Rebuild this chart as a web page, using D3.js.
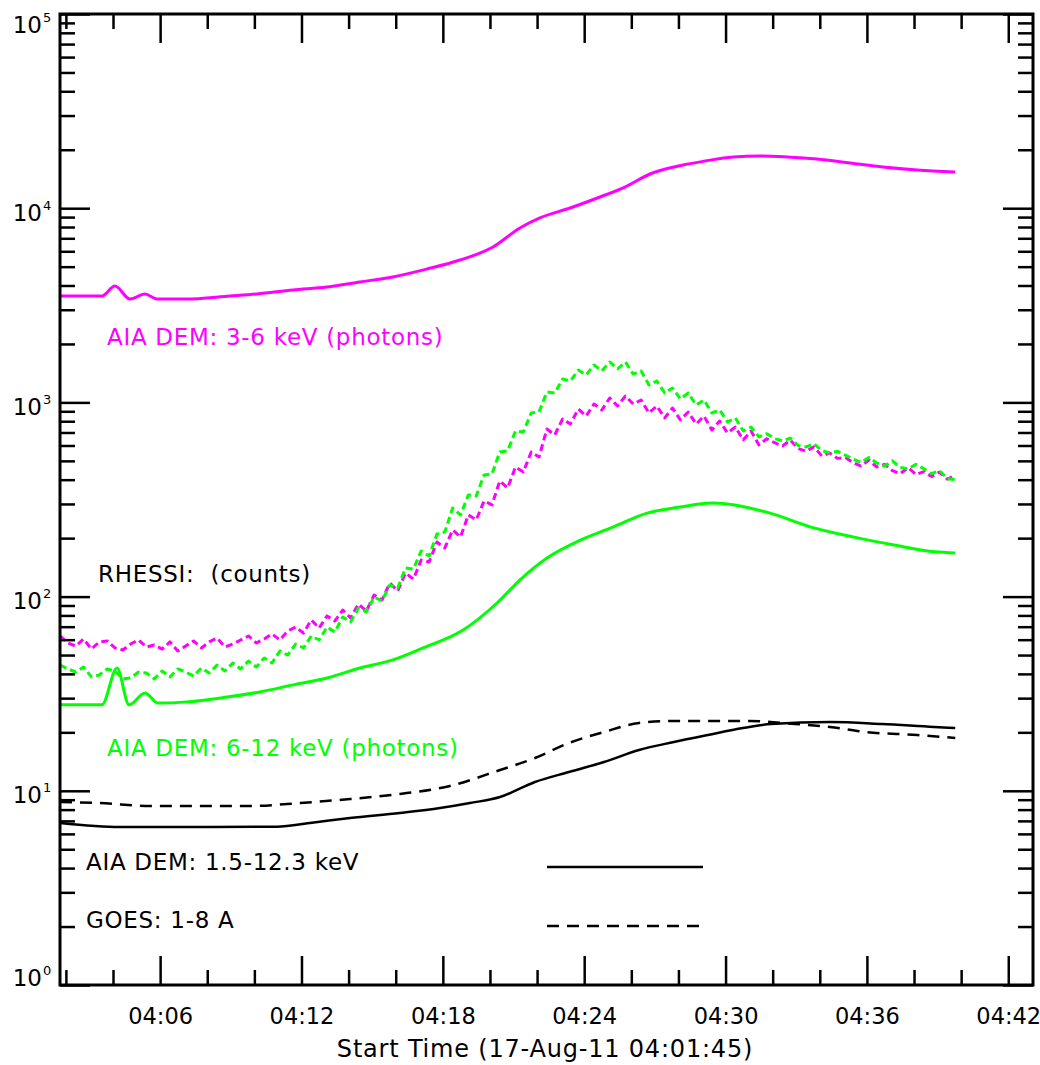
<!DOCTYPE html>
<html>
<head>
<meta charset="utf-8">
<script src="https://cdn.jsdelivr.net/npm/d3@7"></script>
<style>
  body { margin: 0; background: #fff; }
  svg { display: block; }
  text { font-family: "DejaVu Sans", sans-serif; }
</style>
</head>
<body>
<svg id="chart" width="1040" height="1065"></svg>
<script>
// times are minutes after the start time 04:01:45
const startTime = new Date(2011, 7, 17, 4, 1, 45);
const endTime = new Date(2011, 7, 17, 4, 43, 3);

const xTickLabels = ["04:06", "04:12", "04:18", "04:24", "04:30", "04:36", "04:42"];
const yDecades = [1, 10, 100, 1000, 10000, 100000];

// AIA DEM 3-6 keV (photons)
const aia36Min = [0, 1.27, 1.78, 2.33, 2.97, 3.61, 4.12, 5.31, 7.22, 8.36, 9.89, 11.33, 12.73, 14.13, 15.58, 16.98,
  18.38, 19.52, 20.37, 21.65, 22.92, 23.98, 25.04, 26.44, 27.38, 28.57, 29.7, 30.86, 32.13, 33.53, 34.93, 36.38, 38.0];
const aia36Val = [3530, 3530, 3530, 3975, 3406, 3615, 3406, 3406, 3530, 3615, 3793, 3929, 4170, 4425, 4863, 5410,
  6310, 7910, 8910, 10020, 11420, 12850, 15000, 16680, 17500, 18360, 18580, 18360, 17910, 17100, 16300, 15730, 15360];

// AIA DEM 6-12 keV (photons)
const aia612Min = [0, 1.78, 2.42, 2.93, 3.61, 4.16, 5.39, 7.09, 8.49, 9.89, 11.33, 12.73, 14.13, 15.41, 17.11, 18.55,
  19.52, 20.67, 22.07, 23.47, 24.92, 26.32, 27.16, 27.72, 30.14, 31.88, 33.66, 35.40, 37.14, 38.0];
const aia612Val = [27.7, 27.7, 42.9, 27.7, 31.9, 28.3, 28.7, 30.4, 32.3, 35.1, 38.1, 42.9, 47.2, 54.4, 67.3, 92.7,
  121.7, 158, 195, 228, 269, 289, 300, 303, 269, 228, 203, 184.5, 170, 167.6];

// AIA DEM 1.5-12.3 keV
const aiaTotMin = [0, 2.55, 9.2, 10.70, 12.31, 14.43, 16.13, 17.40, 18.68, 20.16, 21.60, 23.09, 24.58, 26.06, 27.50,
  28.99, 30.18, 32.68, 34.89, 37.10, 38.0];
const aiaTotVal = [6.83, 6.51, 6.53, 6.85, 7.24, 7.69, 8.15, 8.65, 9.29, 11.10, 12.50, 14.07, 16.22, 17.83, 19.38,
  21.05, 22.08, 22.61, 22.08, 21.31, 21.05];

// GOES 1-8 A
const goesMin = [0, 1.70, 3.82, 8.06, 10.19, 12.31, 14.43, 16.55, 18.68, 20.16, 21.60, 23.09, 24.58, 26.06, 29.29,
  31.20, 32.68, 34.17, 36.38, 38.0];
const goesVal = [8.76, 8.65, 8.35, 8.35, 8.65, 9.07, 9.63, 10.59, 12.80, 14.75, 17.62, 20.09, 22.35, 22.88, 22.88,
  22.08, 21.31, 20.09, 19.38, 18.70];

// RHESSI counts, one sample every 20 s from the start time
const rhessiStepMin = 1 / 3;
const rhessi36 = [62.7, 57.7, 55.6, 60.5, 53.7, 58.4, 59.1, 54.4, 53.1, 57.0,
  59.8, 55.0, 56.3, 53.7, 58.4, 52.5, 55.6, 59.1, 54.4, 58.4,
  61.2, 55.0, 57.0, 59.8, 62.7, 57.7, 60.5, 64.2, 59.8, 66.5,
  69.7, 64.9, 75.8, 68.9, 79.5, 74.9, 85.3, 77.6, 91.6, 84.3,
  101.9, 96.0, 117.5, 106.8, 132.3, 123.2, 154.3, 150.7, 191.1, 178.0,
  220.3, 202.7, 263.2, 248.1, 310.8, 296.4, 393.9, 362.6, 465.0, 438.3,
  555.5, 523.5, 729.6, 679.5, 821.4, 774.1, 924.8, 851.2, 981.2, 913.9,
  1054, 958, 1079, 981, 1029, 882, 958, 831, 936, 812,
  892, 774, 851, 721, 802, 696, 747, 640, 712, 604,
  650, 620, 596, 640, 578, 560, 590, 530, 549, 515,
  520, 490, 470, 505, 465, 480, 445, 430, 462, 425,
  440, 415, 438, 402, 423];
const rhessi612 = [44.4, 42.4, 40.9, 43.4, 38.6, 39.5, 42.4, 41.4, 37.7, 38.1,
  40.9, 40.4, 37.7, 41.4, 38.6, 42.4, 40.9, 39.0, 42.9, 40.4,
  44.4, 41.4, 45.5, 42.4, 46.6, 43.4, 48.3, 45.5, 52.5, 50.0,
  57.0, 54.4, 62.7, 59.8, 69.7, 65.7, 78.5, 74.0, 87.3, 83.3,
  99.5, 94.9, 114.7, 110.7, 140.4, 138.7, 171.8, 161.9, 210.1, 215.1,
  286.0, 263.2, 333.7, 329.8, 422.9, 427.9, 555.5, 562.1, 712.5, 704.1,
  882, 892, 1131, 1118, 1320, 1289, 1469, 1384, 1558, 1452,
  1615, 1486, 1615, 1400, 1452, 1229, 1289, 1118, 1186, 1041,
  1118, 970, 1029, 882, 914, 793, 831, 712, 747, 664,
  690, 650, 635, 655, 600, 590, 612, 565, 548, 560,
  535, 510, 490, 520, 488, 470, 500, 462, 455, 480,
  455, 430, 445, 405, 400];

const magenta = "#ff00ff", green = "#00ff00", black = "#000";
const plotL = 60, plotR = 1033, plotT = 14, plotB = 985;

const at = m => new Date(+startTime + m * 60000);
const parseClock = d3.timeParse("%Y-%m-%d %H:%M");

const x = d3.scaleTime().domain([startTime, endTime]).range([plotL, plotR]);
const y = d3.scaleLog().domain([1, 1e5]).range([plotB, plotT]);

const svg = d3.select("#chart");

svg.append("clipPath").attr("id", "plot")
  .append("rect").attr("x", plotL).attr("y", plotT).attr("width", plotR - plotL).attr("height", plotB - plotT);

const jagged = d3.line().x(d => x(at(d[0]))).y(d => y(d[1]));
const smooth = d3.line().x(d => x(at(d[0]))).y(d => y(d[1])).curve(d3.curveMonotoneX);
const zip = (ts, vs) => ts.map((t, i) => [t, vs[i]]);

const curves = svg.append("g").attr("clip-path", "url(#plot)").attr("fill", "none")
  .attr("stroke-linejoin", "round");

function curve(data, gen, color, width, dash) {
  curves.append("path")
    .datum(data)
    .attr("d", gen)
    .attr("stroke", color)
    .attr("stroke-width", width)
    .attr("stroke-dasharray", dash || null);
}

curve(rhessi36.map((v, i) => [i * rhessiStepMin, v]), jagged, magenta, 3, "7,4");
curve(rhessi612.map((v, i) => [i * rhessiStepMin, v]), jagged, green, 3, "7,4");
curve(zip(aia36Min, aia36Val), smooth, magenta, 3);
curve(zip(aia612Min, aia612Val), smooth, green, 3);
curve(zip(goesMin, goesVal), smooth, black, 2.5, "12,8");
curve(zip(aiaTotMin, aiaTotVal), smooth, black, 2.5);

// axes
const xMajor = xTickLabels.map(s => parseClock("2011-08-17 " + s));
const xMinor = d3.timeMinute.every(2).range(startTime, endTime).filter(d => d.getMinutes() % 6 !== 0);
const yMinor = y.ticks().filter(v => !yDecades.includes(v));

function ticks(axis, pos, vals, len) {
  svg.append("g")
    .attr("transform", pos)
    .call(axis.tickValues(vals).tickSize(-len).tickFormat(""))
    .call(g => g.select(".domain").remove())
    .call(g => g.selectAll(".tick line").attr("stroke", black).attr("stroke-width", 2.5));
}

ticks(d3.axisLeft(y), `translate(${plotL},0)`, yDecades, 30);
ticks(d3.axisLeft(y), `translate(${plotL},0)`, yMinor, 15);
ticks(d3.axisRight(y), `translate(${plotR},0)`, yDecades, 30);
ticks(d3.axisRight(y), `translate(${plotR},0)`, yMinor, 15);
ticks(d3.axisTop(x), `translate(0,${plotT})`, xMajor, 29);
ticks(d3.axisTop(x), `translate(0,${plotT})`, xMinor, 15);
ticks(d3.axisBottom(x), `translate(0,${plotB})`, xMinor, 15);

svg.append("g")
  .attr("transform", `translate(0,${plotB})`)
  .call(d3.axisBottom(x).tickValues(xMajor).tickSize(-29).tickPadding(23).tickFormat(d3.timeFormat("%H:%M")))
  .call(g => g.select(".domain").remove())
  .call(g => g.selectAll(".tick line").attr("stroke", black).attr("stroke-width", 2.5))
  .call(g => g.selectAll(".tick text").attr("fill", black)
    .style("font-family", '"DejaVu Sans", sans-serif').style("font-size", "22.5px"));

// frame
svg.append("rect")
  .attr("x", plotL).attr("y", plotT).attr("width", plotR - plotL).attr("height", plotB - plotT)
  .attr("fill", "none").attr("stroke", black).attr("stroke-width", 3);

// y labels 10^n
const yLab = svg.append("g").attr("fill", black);
yDecades.forEach(v => {
  const base = Math.max(plotT + 19, Math.min(plotB + 1, y(v) + 12.5));
  yLab.append("text").attr("x", 42).attr("y", base).attr("text-anchor", "end")
    .style("font-size", "23px").text("10");
  yLab.append("text").attr("x", 43).attr("y", base - 11)
    .style("font-size", "13px").text(Math.round(Math.log10(v)));
});

svg.append("text")
  .attr("x", 545).attr("y", 1057).attr("text-anchor", "middle")
  .style("font-size", "24px").style("letter-spacing", "0.8px")
  .text("Start Time (17-Aug-11 04:01:45)");

// labels inside the plot
const labels = [
  { text: "AIA DEM: 3-6 keV (photons)", x: 107, y: 345, color: magenta },
  { text: "RHESSI:\u00a0\u00a0(counts)", x: 98, y: 582, color: black },
  { text: "AIA DEM: 6-12 keV (photons)", x: 107, y: 756, color: green },
  { text: "AIA DEM: 1.5-12.3 keV", x: 86, y: 870, color: black },
  { text: "GOES: 1-8 A", x: 86, y: 928, color: black }
];
svg.selectAll("text.lab").data(labels).join("text")
  .attr("class", "lab")
  .attr("x", d => d.x).attr("y", d => d.y)
  .attr("fill", d => d.color)
  .style("font-size", "23px")
  .style("letter-spacing", "0.7px")
  .text(d => d.text);

svg.append("line").attr("x1", 547).attr("x2", 703).attr("y1", 867).attr("y2", 867)
  .attr("stroke", black).attr("stroke-width", 2.5);
svg.append("line").attr("x1", 547).attr("x2", 699).attr("y1", 926).attr("y2", 926)
  .attr("stroke", black).attr("stroke-width", 2.5).attr("stroke-dasharray", "12,8");
</script>
</body>
</html>
